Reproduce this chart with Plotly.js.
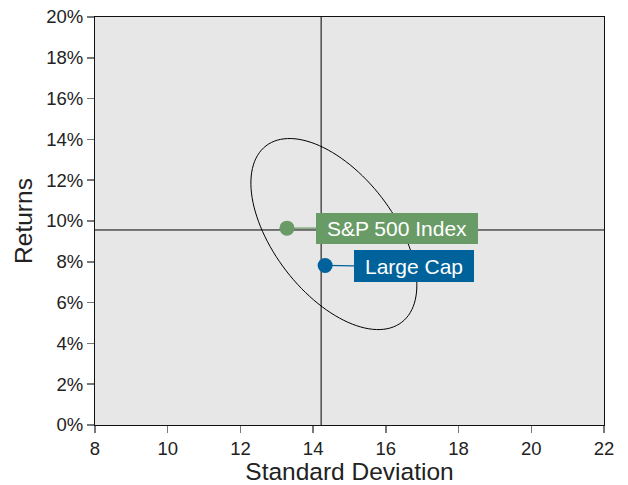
<!DOCTYPE html>
<html>
<head>
<meta charset="utf-8">
<script src="https://cdn.plot.ly/plotly-3.0.1.min.js"></script>
<style>html,body{margin:0;padding:0;background:#fff;}#chart{width:628px;height:485px;}</style>
</head>
<body>
<div id="chart"></div>
<script>
// Data
const seriesNames = ["S&P 500 Index", "Large Cap"];
const stdDev = [13.28, 14.33];
const returns = [9.65, 7.82];
const seriesColors = ["#699b66", "#00629b"];
const refStdDev = 14.22;
const refReturn = 9.56;
const xTicks = [8, 10, 12, 14, 16, 18, 20, 22];
const yTicks = [0, 2, 4, 6, 8, 10, 12, 14, 16, 18, 20];
// Ellipse parameters (center in data units, semi-axes in px, angle in degrees, screen coords)
const ellCenter = [14.57, 9.36];
const ellAxes = [111.3, 60.2];
const ellAngle = 52.4;

const W = 628, H = 485;
const margin = {l: 95, r: 24, t: 17, b: 60};
const xRange = [8, 22], yRange = [0, 20];
const pxX = (W - margin.l - margin.r) / (xRange[1] - xRange[0]);
const pxY = (H - margin.t - margin.b) / (yRange[1] - yRange[0]);

function ellipsePath() {
  const th = ellAngle * Math.PI / 180;
  let d = "";
  const n = 120;
  for (let i = 0; i <= n; i++) {
    const t = 2 * Math.PI * i / n;
    const ux = ellAxes[0] * Math.cos(t), uy = ellAxes[1] * Math.sin(t);
    const px = ux * Math.cos(th) - uy * Math.sin(th);
    const py = ux * Math.sin(th) + uy * Math.cos(th);
    const x = ellCenter[0] + px / pxX;
    const y = ellCenter[1] - py / pxY;
    d += (i === 0 ? "M" : "L") + x.toFixed(4) + "," + y.toFixed(4);
  }
  return d + "Z";
}

const traces = seriesNames.map((n, i) => ({
  type: "scatter", mode: "markers", name: n,
  x: [stdDev[i]], y: [returns[i]],
  marker: {color: seriesColors[i], size: 15},
  hoverinfo: "skip", showlegend: false
}));

const font = "Liberation Sans, Arial, sans-serif";
const labelOffsets = [[110, 0], [89, 1]];
const labelSizes = [[160, 29], [118, 30]];

const annotations = seriesNames.map((n, i) => ({
  x: stdDev[i], y: returns[i], xref: "x", yref: "y",
  text: n, showarrow: true, arrowhead: 0, arrowwidth: 1.2,
  arrowcolor: seriesColors[i], ax: labelOffsets[i][0], ay: labelOffsets[i][1],
  bgcolor: seriesColors[i], borderpad: 1, borderwidth: 0,
  width: labelSizes[i][0], height: labelSizes[i][1],
  font: {family: font, size: 21, color: "#ffffff"}
}));

const layout = {
  width: W, height: H, margin: margin,
  paper_bgcolor: "#ffffff", plot_bgcolor: "#e7e7e7",
  font: {family: font, color: "#222"},
  xaxis: {
    range: xRange, tickvals: xTicks, ticktext: xTicks.map(String),
    showgrid: false, zeroline: false, showline: true, linecolor: "#111", linewidth: 1, mirror: true,
    ticks: "outside", ticklen: 7, tickwidth: 1.5, tickcolor: "#777",
    tickfont: {size: 18.5, color: "#222"},
    title: {text: "Standard Deviation", font: {size: 24.5, color: "#222"}, standoff: 7}
  },
  yaxis: {
    range: yRange, tickvals: yTicks, ticktext: yTicks.map(v => v + "%"),
    showgrid: false, zeroline: false, showline: true, linecolor: "#111", linewidth: 1, mirror: true,
    ticks: "outside", ticklen: 7, tickwidth: 1.5, tickcolor: "#777",
    tickfont: {size: 18.5, color: "#222"},
    title: {text: "Returns", font: {size: 24.5, color: "#222"}, standoff: 6}
  },
  shapes: [
    {type: "line", xref: "x", yref: "paper", x0: refStdDev, x1: refStdDev, y0: 0, y1: 1, line: {color: "#000", width: 1}, layer: "below"},
    {type: "line", xref: "paper", yref: "y", x0: 0, x1: 1, y0: refReturn, y1: refReturn, line: {color: "#000", width: 1}, layer: "below"},
    {type: "path", xref: "x", yref: "y", path: ellipsePath(), line: {color: "#000", width: 1}, fillcolor: "rgba(0,0,0,0)", layer: "below"}
  ],
  annotations: annotations
};

Plotly.newPlot("chart", traces, layout, {displayModeBar: false, staticPlot: true});
</script>
</body>
</html>
